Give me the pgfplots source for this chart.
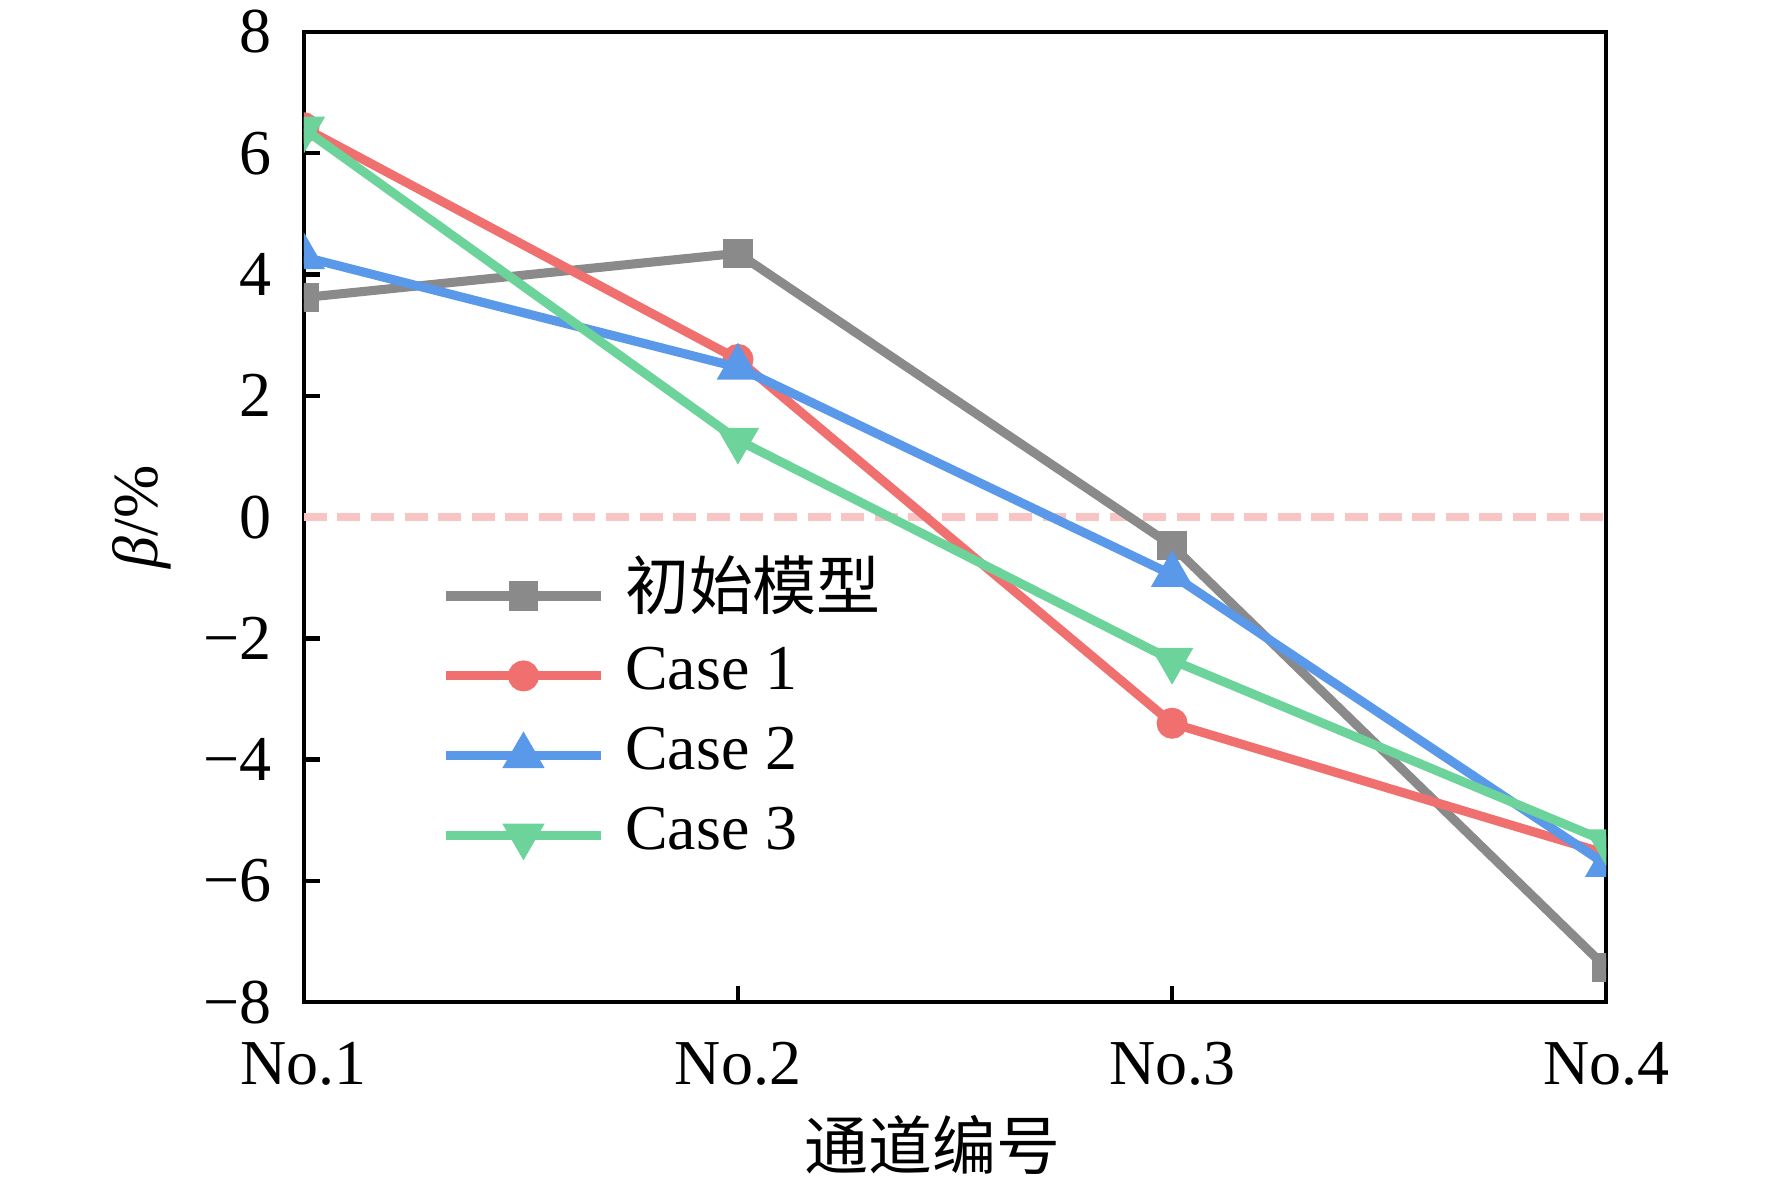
\documentclass[border=0pt]{standalone}
\usepackage{fontspec}
\setmainfont{Liberation Serif}
\newfontfamily\cjk{Noto Sans CJK SC}
\usepackage{pgfplots}
\pgfplotsset{compat=1.18}
\definecolor{cgray}{RGB}{138,138,138}
\definecolor{cred}{RGB}{240,112,112}
\definecolor{cblue}{RGB}{90,152,234}
\definecolor{cgreen}{RGB}{108,212,154}
\definecolor{czero}{RGB}{248,196,196}
\begin{document}
\begin{tikzpicture}
\begin{axis}[
  name=ax,
  scale only axis,
  width=244.3pt, height=182pt,
  xmin=0, xmax=3, ymin=-8, ymax=8,
  xtick={0,1,2,3},
  xticklabels={No.1,No.2,No.3,No.4},
  ytick={-8,-6,-4,-2,0,2,4,6,8},
  yticklabels={−8,−6,−4,−2,0,2,4,6,8},
  tick pos=left,
  tick align=inside,
  major tick length=3pt,
  axis line style={line width=0.85pt},
  every tick/.style={black, line width=0.85pt},
  ticklabel style={font=\fontsize{12}{14}\selectfont},
  xticklabel style={yshift=-4pt},
  yticklabel style={xshift=-2.5pt},
  clip marker paths=true,
  legend style={
    at={(rel axis cs:0.105,0.461)}, anchor=north west,
    draw=none, fill=none, inner sep=0pt,
    font=\fontsize{12}{14}\selectfont,
    nodes={inner xsep=0pt, inner ysep=0pt, text height=10pt, text depth=5pt},
    row sep=0pt,
  },
  legend cell align=left,
  legend image code/.code={
    \draw[mark repeat=2,mark phase=2,#1] plot coordinates {(0pt,0pt) (14.5pt,0pt) (29pt,0pt)};
    \path (32.7pt,0pt);
  },
]
\addplot[czero, line width=1.5pt, dash pattern=on 4.3pt off 2pt, forget plot] coordinates {(0,0) (3,0)};
\addplot[cgray, line width=1.7pt, mark=square*, mark size=1.9pt, mark options={solid}] coordinates {
  (0,3.62) (1,4.35) (2,-0.47) (3,-7.43)};
\addlegendentry{\cjk 初始模型}
\addplot[cred, line width=1.7pt, mark=*, mark size=2.05pt, mark options={solid}] coordinates {
  (0,6.42) (1,2.60) (2,-3.40) (3,-5.55)};
\addlegendentry{Case 1}
\addplot[cblue, line width=1.7pt, mark=triangle*, mark size=2.9pt, mark options={solid}] coordinates {
  (0,4.29) (1,2.47) (2,-0.95) (3,-5.73)};
\addlegendentry{Case 2}
\addplot[cgreen, line width=1.7pt, mark=triangle*, mark size=2.9pt, mark options={solid, rotate=180}] coordinates {
  (0,6.40) (1,1.27) (2,-2.36) (3,-5.35)};
\addlegendentry{Case 3}
\end{axis}
\node[rotate=90, font=\fontsize{12}{14}\selectfont] at (-30.4pt,91pt) {\textit{β}/\%};
\node[font=\fontsize{12}{14}\selectfont] at (118pt,-26.8pt) {\cjk 通道编号};
\pgfresetboundingbox
\path[use as bounding box] (-57pt,-34.7pt) rectangle (275.4pt,188pt);
\end{tikzpicture}
\end{document}
